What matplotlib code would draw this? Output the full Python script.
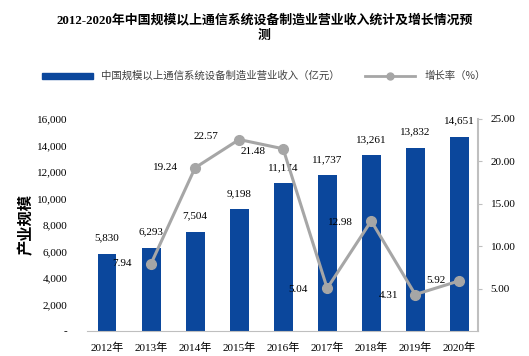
import matplotlib.pyplot as plt
from matplotlib.ticker import FuncFormatter

plt.rcParams['font.family'] = ['Liberation Serif', 'Noto Sans CJK SC']

years = ['2012年', '2013年', '2014年', '2015年', '2016年',
         '2017年', '2018年', '2019年', '2020年']
revenue = [5830, 6293, 7504, 9198, 11174, 11737, 13261, 13832, 14651]
rate_idx = [1, 2, 3, 4, 5, 6, 7, 8]
rate = [7.94, 19.24, 22.57, 21.48, 5.04, 12.98, 4.31, 5.92]

# label offsets in points (dx, dy) for growth-rate labels
rate_off = [(-21, 0), (-21, 0), (-24, 2), (-22, -2), (-21, -1),
            (-22, -1), (-19, -1), (-17, 0)]

bar_color = '#0b479c'
line_color = '#a6a6a6'
cjk = ['Noto Sans CJK SC']

fig = plt.figure(figsize=(5.29, 3.56), dpi=100)
ax = fig.add_axes([0.164, 0.070, 0.740, 0.596])
x = list(range(len(years)))
ax.bar(x, revenue, width=0.43, color=bar_color, zorder=2)
ax.set_ylim(0, 16000)
ax.set_xlim(-0.46, 8.43)
ax.set_yticks(range(0, 16001, 2000))
ax.yaxis.set_major_formatter(
    FuncFormatter(lambda v, _: '-' if v == 0 else f'{int(v):,}'))
ax.set_xticks(x)
ax.set_xticklabels(years, fontsize=8)
ax.tick_params(axis='y', length=0, labelsize=8, pad=14)
ax.tick_params(axis='x', length=0, pad=8)
for s in ['top', 'right', 'left']:
    ax.spines[s].set_visible(False)
ax.spines['bottom'].set_color('#bfbfbf')
ax.set_ylabel('产业规模', family=cjk, fontsize=11, fontweight='bold',
              labelpad=2)

for xi, v in zip(x, revenue):
    ax.annotate(f'{v:,}', (xi, v), xytext=(0, 8), textcoords='offset points',
                ha='center', va='bottom', fontsize=8)

ax2 = ax.twinx()
ax2.plot(rate_idx, rate, color=line_color, lw=2.2, marker='o', ms=7,
         zorder=3)
ax2.set_ylim(0, 25)
ax2.set_yticks([5, 10, 15, 20, 25])
ax2.yaxis.set_major_formatter(FuncFormatter(lambda v, _: f'{v:.2f}'))
ax2.tick_params(axis='y', length=3, labelsize=8, color='#bfbfbf', pad=6)
for s in ['top', 'left', 'bottom']:
    ax2.spines[s].set_visible(False)
ax2.spines['right'].set_color('#bfbfbf')
ax2.spines['right'].set_linewidth(1.5)

for xi, v, (dx, dy) in zip(rate_idx, rate, rate_off):
    ax2.annotate(f'{v:.2f}', (xi, v), xytext=(dx, dy),
                 textcoords='offset points', ha='center', va='center',
                 fontsize=8)

fig.text(0.5, 0.944, '2012-2020年中国规模以上通信系统设备制造业营业收入统计及增长情况预',
         ha='center', va='center', fontsize=9.3, fontweight='bold')
fig.text(0.5, 0.899, '测', ha='center', va='center', fontsize=9.3,
         fontweight='bold')

# legend drawn by hand in figure coordinates
fig.patches.append(plt.Rectangle((0.080, 0.778), 0.095, 0.018,
                                 transform=fig.transFigure,
                                 color=bar_color))
fig.text(0.190, 0.787, '中国规模以上通信系统设备制造业营业收入（亿元）',
         family=cjk, fontsize=7.5, va='center', color='#404040')
fig.lines.append(plt.Line2D([0.690, 0.7375, 0.785], [0.787, 0.787, 0.787],
                            transform=fig.transFigure, color=line_color,
                            lw=2, marker='o', ms=5, markevery=[1]))
fig.text(0.803, 0.787, '增长率（%）', family=cjk, fontsize=7.5, va='center',
         color='#404040')

fig.savefig('out.png', dpi=100)
